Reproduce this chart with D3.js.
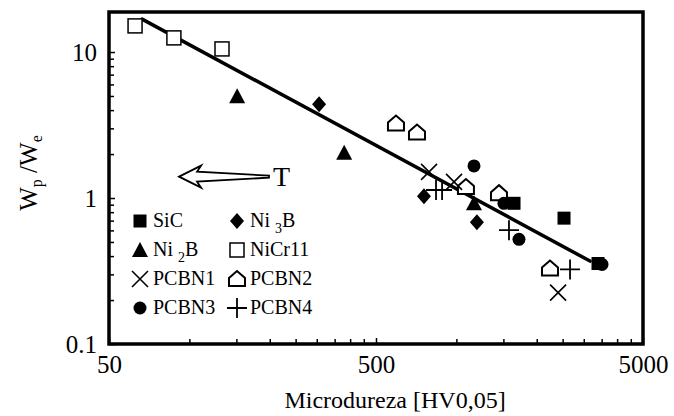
<!DOCTYPE html>
<html><head><meta charset="utf-8">
<script src="https://cdn.jsdelivr.net/npm/d3@7"></script>
<style>
body{margin:0;background:#fff;}
svg{display:block;font-family:"Liberation Serif","Times New Roman",serif;}
</style></head>
<body><svg id="c" width="674" height="416"></svg>
<script>
// ---- data ----
const sicX = [1644, 2530, 3392];
const sicY = [0.92, 0.728, 0.356];
const ni3bX = [306, 756, 1194];
const ni3bY = [4.38, 1.03, 0.683];
const ni2bX = [151, 380, 1164];
const ni2bY = [4.97, 2.04, 0.92];
const nicrX = [62.6, 87.5, 132.5];
const nicrY = [15.1, 12.5, 10.5];
const pcbn1X = [790, 980, 2404];
const pcbn1Y = [1.51, 1.29, 0.225];
const pcbn2X = [594, 712, 1086, 1444, 2242];
const pcbn2Y = [3.24, 2.81, 1.19, 1.08, 0.329];
const pcbn3X = [1164, 1507, 1716, 3511];
const pcbn3Y = [1.66, 0.92, 0.521, 0.351];
const pcbn4X = [839, 884, 1574, 2665];
const pcbn4Y = [1.135, 1.135, 0.602, 0.324];
const trendX = [66.5, 3165];
const trendY = [16.8, 0.370];
const arrowX = [91.5, 110.6, 198.7]; // tip, head back, tail
const arrowY = [1.40];
const xTickValues = [50, 500, 5000];
const xTickLabels = ["50", "500", "5000"];
const xMinor = [100,150,200,250,300,350,400,450,1000,1500,2000,2500,3000,3500,4000,4500];
const yTickValues = [0.1, 1, 10];
const yTickLabels = ["0.1", "1", "10"];
const yMinor = [0.2,0.3,0.4,0.5,0.6,0.7,0.8,0.9,2,3,4,5,6,7,8,9];
const xTitle = "Microdureza [HV0,05]";

// ---- layout ----
const L = 109, R = 643, T = 12, B = 344;
const svg = d3.select("#c");
const x = d3.scaleLog().domain([50, 5000]).range([L, R]);
const y = d3.scaleLog().domain([0.1, 18.8]).range([B, T]);

// axes
const fs = 25;
const xAx = svg.append("g").attr("transform", `translate(0,${B})`)
  .call(d3.axisBottom(x).tickValues(xTickValues).tickSize(-6).tickPadding(11)
    .tickFormat((d,i)=>xTickLabels[i]));
const xAxM = svg.append("g").attr("transform", `translate(0,${B})`)
  .call(d3.axisBottom(x).tickValues(xMinor).tickSize(-5).tickFormat(""));
const yAx = svg.append("g").attr("transform", `translate(${L},0)`)
  .call(d3.axisLeft(y).tickValues(yTickValues).tickSize(-6).tickPadding(12)
    .tickFormat((d,i)=>yTickLabels[i]));
const yAxM = svg.append("g").attr("transform", `translate(${L},0)`)
  .call(d3.axisLeft(y).tickValues(yMinor).tickSize(-5).tickFormat(""));
[xAx,xAxM,yAx,yAxM].forEach(g=>{
  g.select(".domain").remove();
  g.selectAll("line").attr("stroke","#000").attr("stroke-width",1.5);
  g.selectAll("text").attr("fill","#000").attr("font-size",fs)
    .attr("font-family","Liberation Serif, serif");
});
yAx.selectAll("text").attr("dy","0.32em");

// frame
svg.append("path")
  .attr("d", `M${L},${T}H${R}V${B}H${L}Z`)
  .attr("fill","none").attr("stroke","#000").attr("stroke-width",3.5);

// trend line
svg.append("line")
  .attr("x1", x(trendX[0])).attr("y1", y(trendY[0]))
  .attr("x2", x(trendX[1])).attr("y2", y(trendY[1]))
  .attr("stroke","#000").attr("stroke-width",3.5).attr("stroke-linecap","round");

// marker shapes
const shapes = {
  sq: (g)=>g.append("rect").attr("x",-6.5).attr("y",-6.5).attr("width",13).attr("height",13).attr("fill","#000"),
  osq: (g)=>g.append("rect").attr("x",-7).attr("y",-7).attr("width",14).attr("height",14).attr("fill","#fff").attr("stroke","#000").attr("stroke-width",1.5),
  dia: (g)=>g.append("path").attr("d","M0,-8L7,0L0,8L-7,0Z").attr("fill","#000"),
  tri: (g)=>g.append("path").attr("d","M0,-8L8,7L-8,7Z").attr("fill","#000"),
  xx: (g)=>g.append("path").attr("d","M-8,-8L8,8M8,-8L-8,8").attr("stroke","#000").attr("stroke-width",1.6).attr("fill","none"),
  pent: (g)=>g.append("path").attr("d","M-8,7L8,7L8,-1L0,-8L-8,-1Z").attr("fill","#fff").attr("stroke","#000").attr("stroke-width",2),
  dot: (g)=>g.append("circle").attr("r",6.5).attr("fill","#000"),
  plus: (g)=>g.append("path").attr("d","M-10,0H10M0,-10V10").attr("stroke","#000").attr("stroke-width",1.8).attr("fill","none")
};

function plot(xs, ys, shape){
  const g = svg.append("g");
  xs.forEach((v,i)=>{
    const m = g.append("g").attr("transform",`translate(${x(v)},${y(ys[i])})`);
    shapes[shape](m);
  });
}
plot(nicrX, nicrY, "osq");
plot(pcbn2X, pcbn2Y, "pent");
plot(ni2bX, ni2bY, "tri");
plot(ni3bX, ni3bY, "dia");
plot(sicX, sicY, "sq");
plot(pcbn3X, pcbn3Y, "dot");
plot(pcbn1X, pcbn1Y, "xx");
plot(pcbn4X, pcbn4Y, "plus");

// arrow annotation "T"
const ay = y(arrowY[0]);
const tipX = x(arrowX[0]), headX = x(arrowX[1]), tailX = x(arrowX[2]);
svg.append("path")
  .attr("d", `M${tipX},${ay}L${headX},${ay-11}L${headX-4},${ay-5}L${tailX},${ay-1}L${tailX},${ay+1}L${headX-4},${ay+5}L${headX},${ay+11}Z`)
  .attr("fill","#fff").attr("stroke","#000").attr("stroke-width",1.8).attr("stroke-linejoin","miter");
svg.append("text").attr("x", tailX+4).attr("y", ay+9)
  .attr("font-size",28).text("T");

// legend
const legend = [
  {shape:"sq", parts:[["SiC",0]], col:0, row:0},
  {shape:"dia", parts:[["Ni ",0],["3",1],["B",0]], col:1, row:0},
  {shape:"tri", parts:[["Ni ",0],["2",1],["B",0]], col:0, row:1},
  {shape:"osq", parts:[["NiCr11",0]], col:1, row:1},
  {shape:"xx", parts:[["PCBN1",0]], col:0, row:2},
  {shape:"pent", parts:[["PCBN2",0]], col:1, row:2},
  {shape:"dot", parts:[["PCBN3",0]], col:0, row:3},
  {shape:"plus", parts:[["PCBN4",0]], col:1, row:3}
];
const colX = [140, 237], rowY = [221, 250, 279, 308];
legend.forEach(d=>{
  const cx = colX[d.col], cy = rowY[d.row];
  const m = svg.append("g").attr("transform",`translate(${cx},${cy})`);
  shapes[d.shape](m);
  const t = svg.append("text").attr("x", cx+13).attr("y", cy+6).attr("font-size",20);
  d.parts.forEach(p=>{
    const ts = t.append("tspan").text(p[0]);
    if(p[1]) ts.attr("font-size",14).attr("dy",6);
    else if(t.selectAll("tspan").size()>1) ts.attr("dy",-6).attr("dy", p[0]==="B"?-6:0);
  });
});

// axis titles
svg.append("text").attr("x", 395).attr("y", 408).attr("text-anchor","middle")
  .attr("font-size",24).text(xTitle);
const yt = svg.append("text").attr("transform","translate(37,173) rotate(-90)")
  .attr("text-anchor","middle").attr("font-size",25);
yt.append("tspan").text("W");
yt.append("tspan").attr("font-size",16).attr("dy",5).text("p");
yt.append("tspan").attr("dy",-5).text(" /W");
yt.append("tspan").attr("font-size",16).attr("dy",5).text("e");
</script></body></html>
